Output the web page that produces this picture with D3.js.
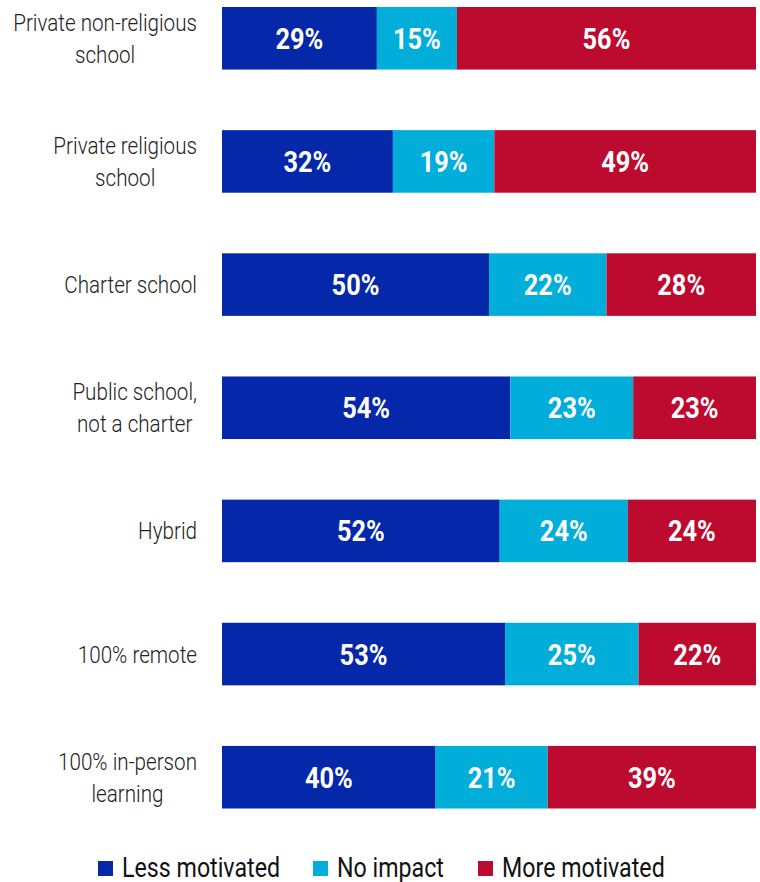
<!DOCTYPE html>
<html>
<head>
<meta charset="utf-8">
<script src="https://cdn.jsdelivr.net/npm/d3@7"></script>
<style>
  html, body { margin: 0; padding: 0; background: #fff; }
  svg { display: block; }
</style>
</head>
<body>
<svg id="chart" width="760" height="882"></svg>
<script>
// School type categories, one per bar (lines split for wrapping)
const categories = [
  ["Private non-religious", "school"],
  ["Private religious", "school"],
  ["Charter school"],
  ["Public school,", "not a charter"],
  ["Hybrid"],
  ["100% remote"],
  ["100% in-person", "learning"]
];
const seriesNames = ["Less motivated", "No impact", "More motivated"];
const lessMotivated = [29, 32, 50, 54, 52, 53, 40];
const noImpact      = [15, 19, 22, 23, 24, 25, 21];
const moreMotivated = [56, 49, 28, 23, 24, 22, 39];
const colors = ["#0527a9", "#00aed9", "#bd0a2f"];

const rows = categories.map((c, i) => ({
  key: i, label: c,
  "Less motivated": lessMotivated[i],
  "No impact": noImpact[i],
  "More motivated": moreMotivated[i]
}));

const svg = d3.select("#chart");
const FONT = "Roboto, 'Noto Sans', sans-serif";
const SQUEEZE = 0.86; // horizontal condensing for text

const x = d3.scaleLinear().domain([0, 100]).range([222, 756]);
const y = d3.scaleBand().domain(rows.map(r => r.key)).range([7, 808.5]).paddingInner(0.492).paddingOuter(0);
const color = d3.scaleOrdinal().domain(seriesNames).range(colors);

const stacked = d3.stack().keys(seriesNames)(rows);

const layers = svg.append("g").selectAll("g").data(stacked).join("g")
  .attr("fill", d => color(d.key));

layers.selectAll("rect").data(d => d).join("rect")
  .attr("x", d => x(d[0]))
  .attr("y", d => y(d.data.key))
  .attr("width", d => x(d[1]) - x(d[0]))
  .attr("height", y.bandwidth());

// Value labels centred in each segment
layers.each(function(layer) {
  d3.select(this).selectAll("text").data(layer).join("text")
    .attr("transform", d => `translate(${(x(d[0]) + x(d[1])) / 2},${y(d.data.key) + y.bandwidth() / 2 + 10.5}) scale(${SQUEEZE},1)`)
    .attr("text-anchor", "middle")
    .attr("font-family", FONT)
    .attr("font-weight", 700)
    .attr("font-size", 29.5)
    .attr("fill", "#fff")
    .text(d => (d[1] - d[0]) + "%");
});

// Category labels: block right-aligned at x=197, lines centred within block
const labelRight = 197;
const labelG = svg.append("g");
rows.forEach(r => {
  const g = labelG.append("g");
  const cy = y(r.key) + y.bandwidth() / 2;
  const n = r.label.length;
  const lineH = 32;
  const t = g.selectAll("text").data(r.label).join("text")
    .attr("font-family", FONT)
    .attr("font-weight", 300)
    .attr("font-size", 24)
    .attr("fill", "#222")
    .attr("text-anchor", "middle")
    .attr("x", 0)
    .attr("y", (d, i) => cy + (i - (n - 1) / 2) * lineH + 8.5)
    .text(d => d);
  let maxW = 0;
  t.each(function() { maxW = Math.max(maxW, this.getComputedTextLength()); });
  const w = maxW * SQUEEZE;
  g.attr("transform", `translate(${labelRight - w / 2},0) scale(${SQUEEZE},1)`);
});

// Legend
const legendItems = [
  { name: "Less motivated", x: 98 },
  { name: "No impact", x: 313 },
  { name: "More motivated", x: 478 }
];
const lg = svg.append("g").selectAll("g").data(legendItems).join("g")
  .attr("transform", d => `translate(${d.x},0)`);
lg.append("rect")
  .attr("x", 0).attr("y", 861).attr("width", 15).attr("height", 15)
  .attr("fill", d => color(d.name));
lg.append("text")
  .attr("transform", `translate(24,877) scale(${SQUEEZE},1)`)
  .attr("font-family", FONT)
  .attr("font-size", 27)
  .attr("fill", "#111")
  .text(d => d.name);
</script>
</body>
</html>
